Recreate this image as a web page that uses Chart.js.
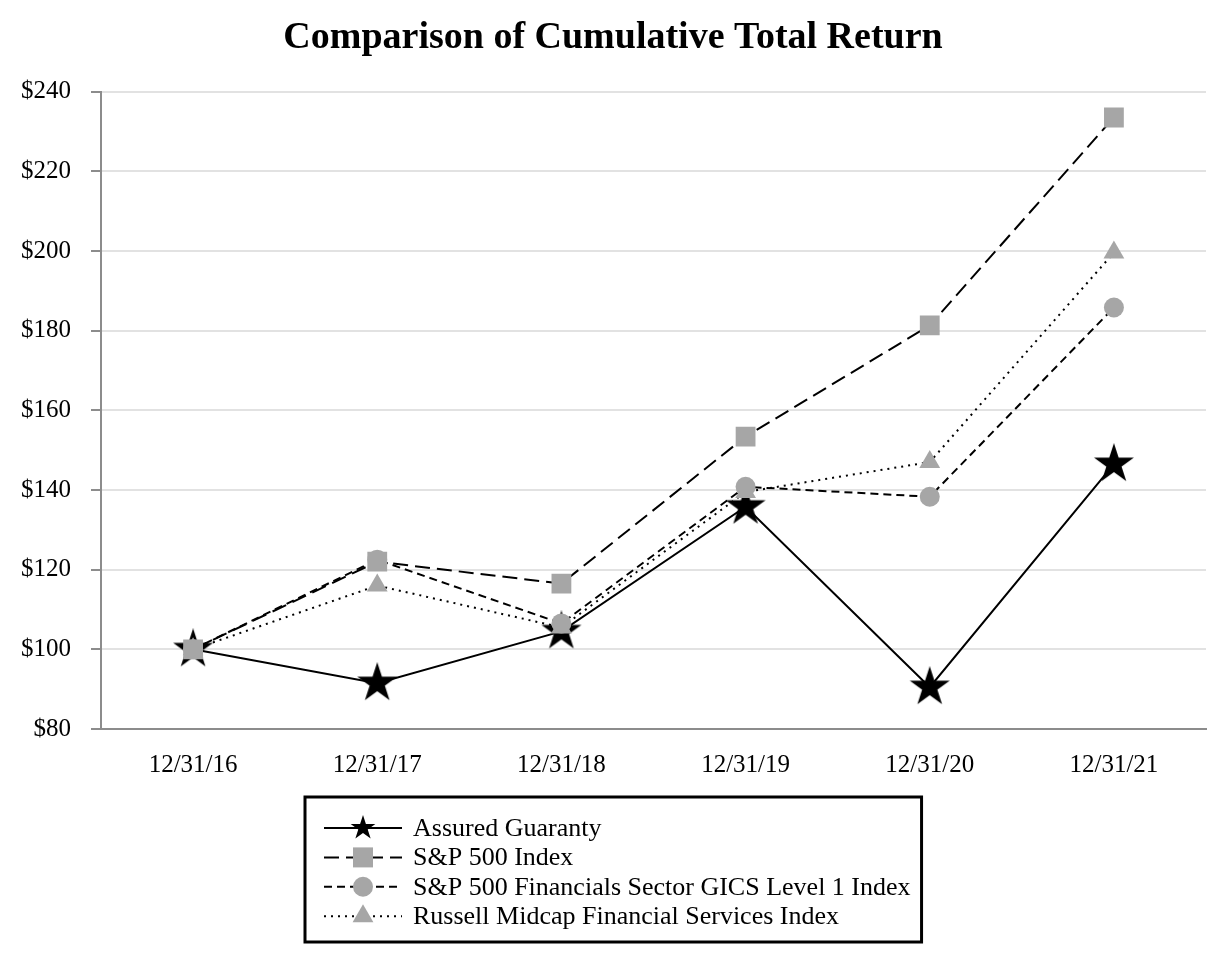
<!DOCTYPE html>
<html>
<head>
<meta charset="utf-8">
<title>Comparison of Cumulative Total Return</title>
<script src="https://cdn.jsdelivr.net/npm/chart.js@4.4.1/dist/chart.umd.min.js"></script>
<style>
    html, body { margin: 0; padding: 0; background: #fff; }
    #wrap { width: 1226px; height: 960px; }
</style>
</head>
<body>
<div id="wrap"><canvas id="returnChart" width="1226" height="960"></canvas></div>
<script>
// Data
const dates = ['12/31/16', '12/31/17', '12/31/18', '12/31/19', '12/31/20', '12/31/21'];
const assuredGuaranty = [100, 91.5, 104.5, 135.8, 90.5, 146.5];
const sp500Index = [100, 122, 116.5, 153.4, 181.3, 233.5];
const sp500Financials = [100, 122.5, 106.5, 140.8, 138.3, 185.8];
const russellMidcapFin = [100, 116, 105.5, 139.5, 147, 199.6];
const yMin = 80;
const yMax = 240;
const yStep = 20;

const seriesNames = [
    'Assured Guaranty',
    'S&P 500 Index',
    'S&P 500 Financials Sector GICS Level 1 Index',
    'Russell Midcap Financial Services Index'
];

// Styles
const SERIF = '"Liberation Serif", "Times New Roman", serif';
const MARKER_GRAY = '#a6a6a6';
const AXIS_GRAY = '#8c8c8c';
const GRID_GRAY = '#e2e2e2';

// Filled five point star (Chart.js 'star' is only a stroked asterisk)
function makeStar(size) {
    const c = document.createElement('canvas');
    c.width = size;
    c.height = size;
    const g = c.getContext('2d');
    const R = size / 2;
    const r = R * 0.382;
    g.fillStyle = '#000';
    g.beginPath();
    for (let i = 0; i < 10; i++) {
        const rad = i % 2 === 0 ? R : r;
        const a = -Math.PI / 2 + i * Math.PI / 5;
        const px = size / 2 + rad * Math.cos(a);
        const py = size / 2 + rad * Math.sin(a);
        if (i === 0) g.moveTo(px, py); else g.lineTo(px, py);
    }
    g.closePath();
    g.fill();
    return c;
}

const bigStar = makeStar(42);
const smallStar = makeStar(26);

// Legend marker drawing (mirrors the point styles used in the chart)
function drawLegendMarker(ctx, kind, x, y) {
    ctx.fillStyle = MARKER_GRAY;
    if (kind === 'star') {
        ctx.drawImage(smallStar, x - smallStar.width / 2, y - smallStar.height / 2);
    } else if (kind === 'rect') {
        ctx.fillRect(x - 10, y - 10, 20, 20);
    } else if (kind === 'circle') {
        ctx.beginPath();
        ctx.arc(x, y, 10, 0, Math.PI * 2);
        ctx.fill();
    } else if (kind === 'triangle') {
        const rr = 12;
        ctx.beginPath();
        ctx.moveTo(x, y - rr);
        ctx.lineTo(x + rr * 0.866, y + rr / 2);
        ctx.lineTo(x - rr * 0.866, y + rr / 2);
        ctx.closePath();
        ctx.fill();
    }
}

const legendKinds = ['star', 'rect', 'circle', 'triangle'];

// Boxed legend under the plot
const boxLegend = {
    id: 'boxLegend',
    afterDraw(chart) {
        const ctx = chart.ctx;
        const sets = chart.data.datasets;
        ctx.save();
        ctx.font = '26px ' + SERIF;
        const maxW = Math.max(...sets.map(d => ctx.measureText(d.label).width));
        const padL = 19, sampleW = 78, gap = 11, padR = 11;
        const boxW = padL + sampleW + gap + maxW + padR;
        const boxH = 145;
        const boxX = Math.round((chart.width - boxW) / 2);
        const boxY = chart.chartArea.bottom + 68;

        ctx.lineWidth = 3;
        ctx.strokeStyle = '#000';
        ctx.strokeRect(boxX, boxY, boxW, boxH);

        sets.forEach((ds, i) => {
            const y = boxY + 31 + i * 29.4;
            const x0 = boxX + padL;
            ctx.setLineDash(ds.borderDash || []);
            ctx.lineWidth = ds.borderWidth;
            ctx.strokeStyle = ds.borderColor;
            ctx.beginPath();
            ctx.moveTo(x0, y);
            ctx.lineTo(x0 + sampleW, y);
            ctx.stroke();
            ctx.setLineDash([]);
            drawLegendMarker(ctx, legendKinds[i], x0 + sampleW / 2, y);
            ctx.fillStyle = '#000';
            ctx.textAlign = 'left';
            ctx.textBaseline = 'middle';
            ctx.fillText(ds.label, x0 + sampleW + gap, y + 1);
        });
        ctx.restore();
    }
};

const ctx = document.getElementById('returnChart').getContext('2d');

new Chart(ctx, {
    type: 'line',
    data: {
        labels: dates,
        datasets: [
            {
                label: seriesNames[0],
                data: assuredGuaranty,
                borderColor: '#000',
                borderWidth: 2,
                pointStyle: bigStar,
                pointBorderWidth: 0,
                order: 3
            },
            {
                label: seriesNames[1],
                data: sp500Index,
                borderColor: '#000',
                borderWidth: 2,
                borderDash: [15, 7],
                pointStyle: 'rect',
                pointRadius: 14,
                pointBackgroundColor: MARKER_GRAY,
                pointBorderColor: MARKER_GRAY,
                pointBorderWidth: 0,
                order: 0
            },
            {
                label: seriesNames[2],
                data: sp500Financials,
                borderColor: '#000',
                borderWidth: 2,
                borderDash: [8, 5],
                pointStyle: 'circle',
                pointRadius: 10,
                pointBackgroundColor: MARKER_GRAY,
                pointBorderColor: MARKER_GRAY,
                pointBorderWidth: 0,
                order: 1
            },
            {
                label: seriesNames[3],
                data: russellMidcapFin,
                borderColor: '#000',
                borderWidth: 2,
                borderDash: [2, 5],
                pointStyle: 'triangle',
                pointRadius: 12,
                pointBackgroundColor: MARKER_GRAY,
                pointBorderColor: MARKER_GRAY,
                pointBorderWidth: 0,
                order: 2
            }
        ]
    },
    options: {
        responsive: false,
        animation: false,
        devicePixelRatio: 1,
        layout: {
            padding: { left: 20, right: 20, top: 0, bottom: 171 }
        },
        elements: {
            line: { tension: 0, fill: false }
        },
        plugins: {
            legend: { display: false },
            tooltip: { enabled: false },
            title: {
                display: true,
                text: 'Comparison of Cumulative Total Return',
                color: '#000',
                font: { family: SERIF, size: 38, weight: 'bold', lineHeight: 1.2 },
                padding: { top: 15, bottom: 31 }
            }
        },
        scales: {
            x: {
                offset: true,
                grid: { display: false, drawTicks: false },
                border: { display: true, color: AXIS_GRAY, width: 2 },
                ticks: {
                    color: '#000',
                    padding: 21,
                    maxRotation: 0,
                    font: { family: SERIF, size: 25 }
                },
                afterFit(scale) { scale.height = 60; }
            },
            y: {
                min: yMin,
                max: yMax,
                grid: {
                    color: GRID_GRAY,
                    lineWidth: 2,
                    tickColor: AXIS_GRAY,
                    tickLength: 10,
                    tickWidth: 2
                },
                border: { display: true, color: AXIS_GRAY, width: 2 },
                ticks: {
                    stepSize: yStep,
                    color: '#000',
                    padding: 20,
                    font: { family: SERIF, size: 25 },
                    callback: v => '$' + v
                },
                afterFit(scale) { scale.width = 81; }
            }
        }
    },
    plugins: [boxLegend]
});
</script>
</body>
</html>
